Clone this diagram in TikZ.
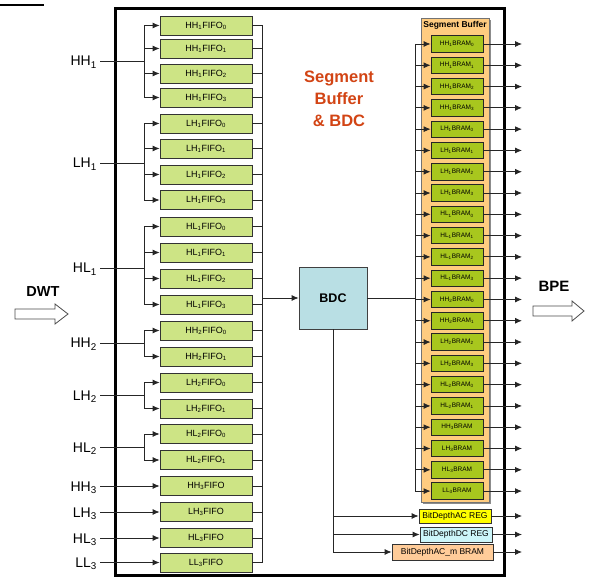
\documentclass[tikz,border=0pt]{standalone}
\usepackage{fontspec}
\setmainfont{Liberation Sans}
\usetikzlibrary{arrows.meta}
\definecolor{fifog}{RGB}{205,228,133}
\definecolor{bramg}{RGB}{168,199,30}
\definecolor{segor}{RGB}{255,204,128}
\definecolor{bdcb}{RGB}{185,223,228}
\definecolor{titler}{RGB}{210,68,20}
\definecolor{regy}{RGB}{255,255,0}
\definecolor{regc}{RGB}{204,246,250}
\definecolor{regp}{RGB}{255,204,153}
\newcommand{\mysub}[1]{\textsubscript{#1}}
\begin{document}
\begin{tikzpicture}[x=1pt,y=-1pt,
  fifo/.style={draw=black!80, fill=fifog, minimum width=92pt, minimum height=19pt, inner sep=0pt, font=\fontsize{9}{10}\selectfont, line width=0.8pt},
  bram/.style={draw=black!85, fill=bramg, minimum width=52pt, minimum height=16.5pt, inner sep=0pt, font=\fontsize{6.5}{7}\selectfont, line width=0.8pt},
  reg/.style={draw=black!80, minimum height=15pt, inner sep=0pt, font=\fontsize{8.5}{9}\selectfont, line width=0.8pt},
  inlab/.style={anchor=base east, inner sep=0pt, font=\fontsize{14}{15}\selectfont},
  arr/.style={-{Latex[length=7pt,width=6pt]}},
  wire/.style={line width=0.8pt, draw=black!85},
  hollow/.style={draw=black!70, fill=white, line width=0.8pt}
]
\useasboundingbox (0,0) rectangle (589,577);

% top-left fragment
\draw[line width=2pt] (0,5) -- (44,5);

% main box
\draw[line width=3pt] (115,9) rectangle (504,575);

% title
\node[font=\bfseries\fontsize{16.5}{22}\selectfont, text=titler, align=center] (title) at (339,99) {Segment\\Buffer\\\& BDC};

% FIFOs
\foreach \n/\y/\t in {
  1/25.5/{HH\mysub{1}FIFO\mysub{0}},
  2/48.5/{HH\mysub{1}FIFO\mysub{1}},
  3/73.5/{HH\mysub{1}FIFO\mysub{2}},
  4/97.5/{HH\mysub{1}FIFO\mysub{3}},
  5/123.5/{LH\mysub{1}FIFO\mysub{0}},
  6/148.5/{LH\mysub{1}FIFO\mysub{1}},
  7/174.5/{LH\mysub{1}FIFO\mysub{2}},
  8/200/{LH\mysub{1}FIFO\mysub{3}},
  9/226.5/{HL\mysub{1}FIFO\mysub{0}},
  10/252.5/{HL\mysub{1}FIFO\mysub{1}},
  11/278.5/{HL\mysub{1}FIFO\mysub{2}},
  12/304.5/{HL\mysub{1}FIFO\mysub{3}},
  13/330.5/{HH\mysub{2}FIFO\mysub{0}},
  14/356.5/{HH\mysub{2}FIFO\mysub{1}},
  15/382.5/{LH\mysub{2}FIFO\mysub{0}},
  16/408.5/{LH\mysub{2}FIFO\mysub{1}},
  17/434/{HL\mysub{2}FIFO\mysub{0}},
  18/460/{HL\mysub{2}FIFO\mysub{1}},
  19/486/{HH\mysub{3}FIFO},
  20/512/{LH\mysub{3}FIFO},
  21/538/{HL\mysub{3}FIFO},
  22/562.5/{LL\mysub{3}FIFO}}
  {\node[fifo] (f\n) at (206,\y) {\t};}

% input labels and branches
\foreach \g/\y/\a/\b/\t in {
  HHa/61/1/4/{HH\mysub{1}},
  LHa/163/5/8/{LH\mysub{1}},
  HLa/268/9/12/{HL\mysub{1}},
  HHb/343/13/14/{HH\mysub{2}},
  LHb/395/15/16/{LH\mysub{2}},
  HLb/447/17/18/{HL\mysub{2}}}
{
  \node[inlab] (l\g) at (97,\y+5) {\t};
  \coordinate (s\g) at (100,\y);
  \coordinate (k\g) at (144,\y);
  \draw[wire] (s\g) -- (k\g);
  \foreach \i in {\a,...,\b} {\draw[wire,arr] (k\g) |- (f\i.west);}
}
\foreach \g/\y/\i/\t in {
  HHc/486/19/{HH\mysub{3}},
  LHc/512/20/{LH\mysub{3}},
  HLc/538/21/{HL\mysub{3}},
  LLc/562.5/22/{LL\mysub{3}}}
{
  \node[inlab] (l\g) at (97,\y+5) {\t};
  \coordinate (s\g) at (100,\y);
  \draw[wire,arr] (s\g) -- (f\i.west);
}

% BDC
\node[draw=black!75, fill=bdcb, minimum width=68pt, minimum height=62pt, inner sep=0pt, line width=0.8pt, font=\bfseries\fontsize{12.5}{14}\selectfont] (bdc) at (333,298) {BDC};

% FIFO collection bus
\coordinate (bus) at (262,0);
\foreach \i in {1,...,22} {\draw[wire] (f\i.east) -- (f\i.east -| bus);}
\draw[wire] (f1.east -| bus) -- (f22.east -| bus);
\draw[wire,arr] (bus |- bdc.west) -- (bdc.west);

% Segment buffer box
\fill[black!45] (423,20) rectangle (491,504);
\draw[draw=black!55, fill=segor, line width=0.6pt] (421,18) rectangle (489,502);
\node[font=\bfseries\fontsize{8.5}{9}\selectfont, inner sep=0pt] (segl) at (455,25) {Segment Buffer};

% BRAMs
\foreach \n/\t in {
  1/{HH\mysub{1}BRAM\mysub{0}},
  2/{HH\mysub{1}BRAM\mysub{1}},
  3/{HH\mysub{1}BRAM\mysub{2}},
  4/{HH\mysub{1}BRAM\mysub{3}},
  5/{LH\mysub{1}BRAM\mysub{0}},
  6/{LH\mysub{1}BRAM\mysub{1}},
  7/{LH\mysub{1}BRAM\mysub{2}},
  8/{LH\mysub{1}BRAM\mysub{3}},
  9/{HL\mysub{1}BRAM\mysub{0}},
  10/{HL\mysub{1}BRAM\mysub{1}},
  11/{HL\mysub{1}BRAM\mysub{2}},
  12/{HL\mysub{1}BRAM\mysub{3}},
  13/{HH\mysub{2}BRAM\mysub{0}},
  14/{HH\mysub{2}BRAM\mysub{1}},
  15/{LH\mysub{2}BRAM\mysub{2}},
  16/{LH\mysub{2}BRAM\mysub{3}},
  17/{HL\mysub{2}BRAM\mysub{0}},
  18/{HL\mysub{2}BRAM\mysub{1}},
  19/{HH\mysub{3}BRAM},
  20/{LH\mysub{3}BRAM},
  21/{HL\mysub{3}BRAM},
  22/{LL\mysub{3}BRAM}}
  {\node[bram] (b\n) at (457,{44+21.29*(\n-1)}) {\t};}

\coordinate (bb) at (415,0);
\coordinate (out) at (522,0);
\draw[wire] (bdc.east) -- (bdc.east -| bb);
\draw[wire] (bb |- b1.west) -- (bb |- b22.west);
\foreach \i in {1,...,22} {
  \draw[wire,arr] (bb |- b\i.west) -- (b\i.west);
  \draw[wire,arr] (b\i.east) -- (b\i.east -| out);
}

% registers
\node[reg, fill=regy, minimum width=72pt, minimum height=14pt] (rac) at (455,516) {BitDepthAC REG};
\node[reg, fill=regc, minimum width=72pt] (rdc) at (456,534.5) {BitDepthDC REG};
\node[reg, fill=regp, minimum width=101pt, minimum height=16pt] (rbr) at (442.5,552) {BitDepthAC\_m BRAM};
\draw[wire] (bdc.south) -- (bdc.south |- rbr.west);
\foreach \r in {rac,rdc,rbr} {
  \draw[wire,arr] (bdc.south |- \r.west) -- (\r.west);
  \draw[wire,arr] (\r.east) -- (\r.east -| out);
}

% DWT / BPE
\node[font=\bfseries\fontsize{14.5}{16}\selectfont, inner sep=0pt] (dwt) at (43,292) {DWT};
\draw[hollow] (15,309) -- (55,309) -- (55,304) -- (68,314) -- (55,324) -- (55,319) -- (15,319) -- cycle;
\node[font=\bfseries\fontsize{15}{16}\selectfont, inner sep=0pt] (bpe) at (554,286) {BPE};
\draw[hollow] (533,306) -- (572,306) -- (572,301) -- (584,311) -- (572,321) -- (572,316) -- (533,316) -- cycle;
\end{tikzpicture}
\end{document}
